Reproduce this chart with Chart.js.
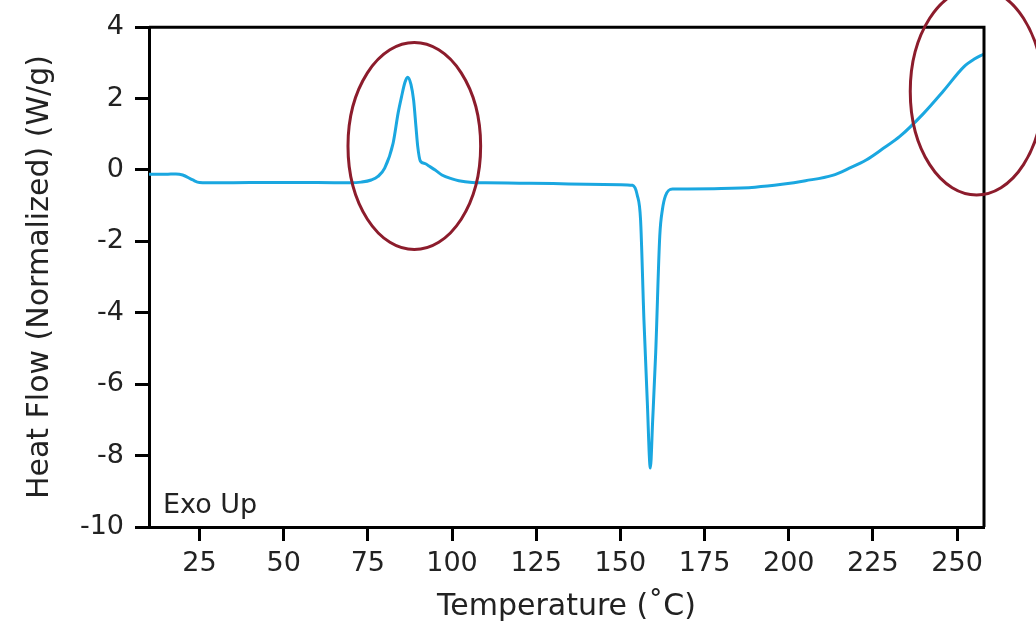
<!DOCTYPE html>
<html>
<head>
<meta charset="utf-8">
<script src="https://cdn.jsdelivr.net/npm/chart.js@4"></script>
<style>
  body { margin: 0; background: #fff; }
  #wrap { width: 1036px; height: 626px; }
</style>
</head>
<body>
<div id="wrap"><canvas id="dsc"></canvas></div>
<script>
// DSC trace: temperature (°C) vs. normalized heat flow (W/g)
const temperature = [
  10, 15, 18, 20, 23, 25, 30, 40, 50, 60, 70, 73, 76, 78, 80, 82.5, 84, 85, 86, 86.8,
  87.8, 88.6, 89.3, 89.8, 90.6, 92, 93, 95, 97, 100, 102, 106, 110, 120, 130, 140, 150,
  153.6, 155, 156, 157, 158, 158.9, 159.6, 160.5, 161.7, 162.5, 163.4, 165.5, 170, 180,
  190, 198, 205, 213, 218, 223, 228, 233, 240, 246, 252, 255, 258,
];
const heatFlow = [
  -0.12, -0.12, -0.11, -0.14, -0.28, -0.35, -0.36, -0.35, -0.35, -0.35, -0.36, -0.34, -0.28, -0.18, 0.05, 0.75, 1.6, 2.05, 2.45, 2.6,
  2.4, 1.95, 1.2, 0.67, 0.25, 0.18, 0.12, 0.0, -0.14, -0.25, -0.3, -0.35, -0.36, -0.37, -0.38, -0.4, -0.41,
  -0.43, -0.7, -1.4, -4.2, -6.5, -8.35, -7.0, -5.1, -1.85, -1.1, -0.72, -0.53, -0.53, -0.52,
  -0.48, -0.4, -0.3, -0.15, 0.05, 0.28, 0.6, 0.94, 1.58, 2.22, 2.89, 3.1, 3.25,
];
const xTicks = [25, 50, 75, 100, 125, 150, 175, 200, 225, 250];
const yTicks = [4, 2, 0, -2, -4, -6, -8, -10];

// highlighted regions: [centre T, centre W/g, half-width °C, half-height W/g]
const highlights = [
  [88.8, 0.67, 19.7, 2.9],
  [255.8, 2.2, 19.7, 2.9],
];

const FONT = '"DejaVu Sans", sans-serif';

// box outline, "Exo Up" note and the red ellipses
const decorations = {
  id: 'decorations',
  afterDatasetsDraw(chart) {
    const { ctx, chartArea: a, scales: { x, y } } = chart;
    ctx.save();
    ctx.strokeStyle = '#000';
    ctx.lineWidth = 3;
    ctx.beginPath();
    ctx.moveTo(a.left, a.top);
    ctx.lineTo(a.right, a.top);
    ctx.lineTo(a.right, a.bottom);
    ctx.stroke();

    ctx.fillStyle = '#222';
    ctx.font = '27px ' + FONT;
    ctx.textBaseline = 'middle';
    ctx.fillText('Exo Up', a.left + 14, a.bottom - 21);

    ctx.strokeStyle = '#8c1c2c';
    ctx.lineWidth = 3;
    highlights.forEach(([cx, cy, rx, ry]) => {
      const px = x.getPixelForValue(cx);
      const py = y.getPixelForValue(cy);
      const prx = Math.abs(x.getPixelForValue(cx + rx) - px);
      const pry = Math.abs(y.getPixelForValue(cy + ry) - py);
      ctx.beginPath();
      ctx.ellipse(px, py, prx, pry, 0, 0, Math.PI * 2);
      ctx.stroke();
    });
    ctx.restore();
  },
};

new Chart(document.getElementById('dsc'), {
  type: 'line',
  data: {
    datasets: [{
      data: temperature.map((t, i) => ({ x: t, y: heatFlow[i] })),
      borderColor: '#1aa7e0',
      borderWidth: 3,
      pointRadius: 0,
      cubicInterpolationMode: 'monotone',
      clip: 20,
    }],
  },
  options: {
    responsive: true,
    maintainAspectRatio: false,
    animation: false,
    layout: { padding: { left: 0, top: 23, right: 52, bottom: 0 } },
    scales: {
      x: {
        type: 'linear',
        min: 10,
        max: 258,
        afterBuildTicks: (s) => { s.ticks = xTicks.map(v => ({ value: v })); },
        afterFit: (s) => { s.height = 99; },
        border: { color: '#000', width: 3 },
        grid: { drawOnChartArea: false, color: '#000', tickLength: 14, tickWidth: 3 },
        ticks: { color: '#222', padding: 7, maxRotation: 0, font: { family: FONT, size: 27 } },
        title: {
          display: true,
          text: 'Temperature (˚C)',
          color: '#222',
          padding: { bottom: 1 },
          font: { family: FONT, size: 30, lineHeight: 1.2 },
        },
      },
      y: {
        min: -10,
        max: 4,
        afterBuildTicks: (s) => { s.ticks = yTicks.map(v => ({ value: v })); },
        afterFit: (s) => { s.width = 149; },
        border: { color: '#000', width: 3 },
        grid: { drawOnChartArea: false, color: '#000', tickLength: 14, tickWidth: 3 },
        ticks: { color: '#222', padding: 11, font: { family: FONT, size: 27 } },
        title: {
          display: true,
          text: 'Heat Flow (Normalized) (W/g)',
          color: '#222',
          padding: { top: 22 },
          font: { family: FONT, size: 30, lineHeight: 1.2 },
        },
      },
    },
    plugins: {
      legend: { display: false },
      tooltip: { enabled: false },
    },
  },
  plugins: [decorations],
});
</script>
</body>
</html>
